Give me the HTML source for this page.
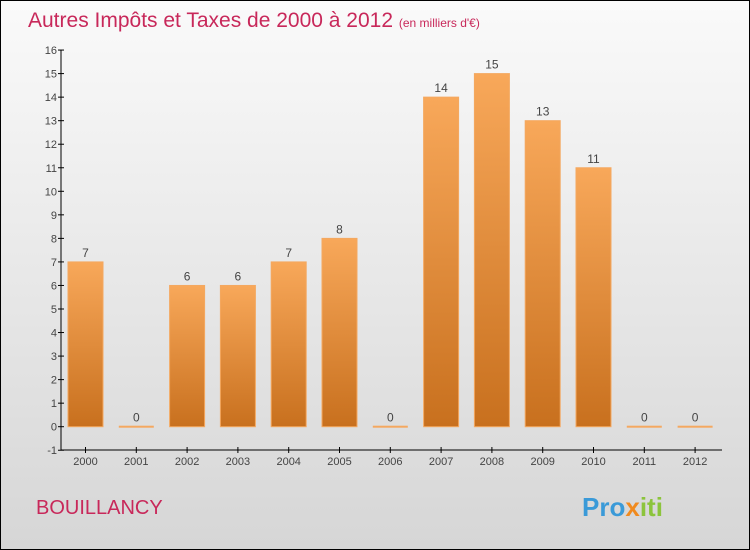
<!DOCTYPE html>
<html><head><meta charset="utf-8"><style>
body{margin:0}
#c{width:750px;height:550px;position:relative;overflow:hidden;box-sizing:border-box;border:1px solid #000;background:linear-gradient(#fafafa,#d6d6d6);font-family:"Liberation Sans",sans-serif}
</style></head><body>
<div id="c">
<svg width="750" height="550" style="position:absolute;left:-1px;top:-1px">
<defs><linearGradient id="bg" x1="0" y1="0" x2="0" y2="1"><stop offset="0" stop-color="#f8a85a"/><stop offset="1" stop-color="#c8701e"/></linearGradient></defs>
<text x="28" y="27" font-size="21" fill="#c8285a">Autres Impôts et Taxes de 2000 à 2012 <tspan font-size="12">(en milliers d'€)</tspan></text>
<text x="36" y="514" font-size="20" fill="#c8285a">BOUILLANCY</text>
<text x="582" y="516" font-size="26" font-weight="bold" fill="#3a9ad8">Pro<tspan fill="#f08a1e">x</tspan><tspan fill="#8cc43c">iti</tspan></text>
<g id="g"></g>
</svg>
</div>
<script>
const years=["2000","2001","2002","2003","2004","2005","2006","2007","2008","2009","2010","2011","2012"];
const values=[7,0,6,6,7,8,0,14,15,13,11,0,0];
const yTicks=[-1,0,1,2,3,4,5,6,7,8,9,10,11,12,13,14,15,16];
const g=document.getElementById('g'),NS='http://www.w3.org/2000/svg';
const y=v=>426.7-v*23.54, x=i=>85.5+i*50.8;
function mk(t,a){const e=document.createElementNS(NS,t);for(const k in a)e.setAttribute(k,a[k]);g.appendChild(e);return e;}
let e=mk('line',{x1:61,y1:y(16),x2:61,y2:450,stroke:'#000'});


e=mk('line',{x1:61,y1:450,x2:722,y2:450,stroke:'#000'});


yTicks.forEach(v=>{
 const t=mk('line',{x1:58,x2:64,y1:y(v),y2:y(v),stroke:'#000'});
 
 
 const l=mk('text',{x:57,y:y(v)+4,'text-anchor':'end','font-size':11,fill:'#444'});
 l.textContent=v;
 
 
});
years.forEach((yr,i)=>{
 const cx=x(i),v=values[i];
 const t=mk('line',{x1:cx,x2:cx,y1:447,y2:453,stroke:'#000'});
 
 
 const l=mk('text',{x:cx,y:465,'text-anchor':'middle','font-size':11,fill:'#444'});
 l.textContent=yr;
 
 
 let b;
 if(v>0){b=mk('rect',{x:cx-17.5,y:y(v),width:35,height:y(0)-y(v),fill:'url(#bg)',stroke:'#f4a860','stroke-width':1});}
 else{b=mk('rect',{x:cx-17.5,y:y(0)-1,width:35,height:2,fill:'#f4a860'});}
 
 
 const vl=mk('text',{x:cx,y:y(v)-5,'text-anchor':'middle','font-size':12,fill:'#444'});
 vl.textContent=v;
 
 
});
</script>
</body></html>
